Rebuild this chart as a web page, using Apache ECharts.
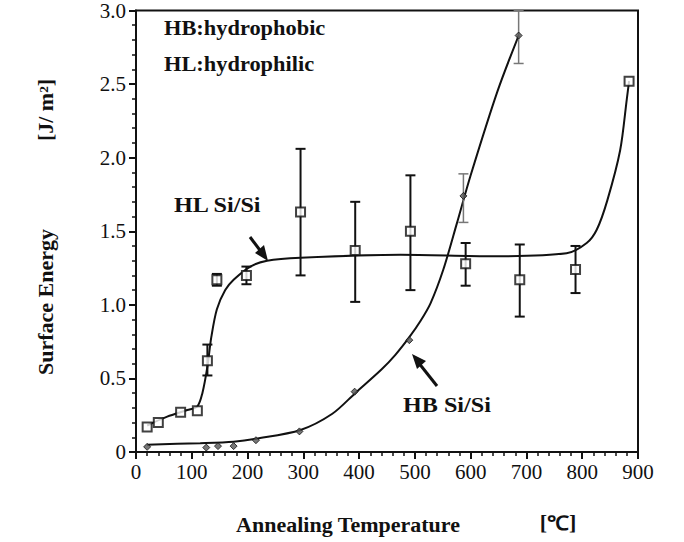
<!DOCTYPE html>
<html>
<head>
<meta charset="utf-8">
<script src="https://cdn.jsdelivr.net/npm/echarts@6/dist/echarts.min.js"></script>
<style>html,body{margin:0;padding:0;background:#fff}#c{width:684px;height:542px}</style>
</head>
<body>
<div id="c"></div>
<script>
// ---- data ----
const xTickLabels = ['0','100','200','300','400','500','600','700','800','900'];
const yTickLabels = ['0','0.5','1.0','1.5','2.0','2.5','3.0'];

// HL Si/Si measured points (squares)
const hlTemp   = [20, 40, 80, 110, 128, 145, 198, 295, 393, 492, 591, 688, 788, 884];
const hlEnergy = [0.17, 0.20, 0.27, 0.28, 0.62, 1.17, 1.20, 1.63, 1.37, 1.50, 1.28, 1.17, 1.24, 2.52];
// HL error bars
const hlErrTemp = [128, 145, 198, 295, 393, 492, 591, 688, 788];
const hlErrLow  = [0.52, 1.13, 1.14, 1.20, 1.02, 1.10, 1.13, 0.92, 1.08];
const hlErrHigh = [0.73, 1.21, 1.26, 2.06, 1.70, 1.88, 1.42, 1.41, 1.40];
// HL fitted curve
const hlFitTemp   = [20, 56, 92, 110, 119, 128, 135, 145, 160, 175, 205, 235, 295, 474, 640, 772, 808, 826, 845, 868, 880, 884];
const hlFitEnergy = [0.18, 0.24, 0.285, 0.31, 0.40, 0.58, 0.78, 0.97, 1.10, 1.17, 1.26, 1.30, 1.32, 1.34, 1.33, 1.35, 1.42, 1.51, 1.71, 2.05, 2.40, 2.52];

// HB Si/Si measured points
const hbTemp   = [20, 126, 147, 175, 215, 293, 392, 490, 587, 686];
const hbEnergy = [0.035, 0.03, 0.04, 0.04, 0.08, 0.14, 0.41, 0.76, 1.74, 2.83];
// HB error bars
const hbErrTemp = [587, 686];
const hbErrLow  = [1.56, 2.64];
const hbErrHigh = [1.89, 3.0];
// HB fitted curve
const hbFitTemp   = [20, 115, 175, 215, 295, 352, 393, 440, 465, 490, 510, 528, 551, 575, 600, 648, 686];
const hbFitEnergy = [0.05, 0.06, 0.07, 0.09, 0.15, 0.26, 0.40, 0.56, 0.66, 0.78, 0.89, 1.01, 1.24, 1.55, 1.88, 2.45, 2.83];

const zip = (a, b) => a.map((v, i) => [v, b[i]]);
const zip3 = (a, b, c) => a.map((v, i) => [v, b[i], c[i]]);

const FONT = '"Liberation Serif", "Times New Roman", serif';

function errRender(color, lw) {
  return function (params, api) {
    const x = api.value(0);
    const lo = api.coord([x, api.value(1)]);
    const hi = api.coord([x, api.value(2)]);
    const cap = 5;
    const style = { stroke: color, lineWidth: lw, fill: null };
    return {
      type: 'group',
      children: [
        { type: 'line', shape: { x1: lo[0], y1: lo[1], x2: hi[0], y2: hi[1] }, style },
        { type: 'line', shape: { x1: lo[0] - cap, y1: lo[1], x2: lo[0] + cap, y2: lo[1] }, style },
        { type: 'line', shape: { x1: hi[0] - cap, y1: hi[1], x2: hi[0] + cap, y2: hi[1] }, style }
      ]
    };
  };
}

const chart = echarts.init(document.getElementById('c'), null, { renderer: 'svg' });
chart.setOption({
  backgroundColor: '#fff',
  animation: false,
  grid: { left: 136, right: 46, top: 10, bottom: 90, show: true, borderColor: '#111', borderWidth: 2, backgroundColor: 'transparent' },
  xAxis: {
    type: 'value', min: 0, max: 900, interval: 100,
    axisLine: { lineStyle: { color: '#111', width: 2 } },
    axisTick: { inside: false, length: 7, lineStyle: { color: '#111', width: 2 } },
    minorTick: { show: true, splitNumber: 5, length: 4, lineStyle: { color: '#111', width: 1.5 } },
    splitLine: { show: false },
    axisLabel: { margin: 9, color: '#111', fontFamily: FONT, fontSize: 21,
      formatter: (v) => xTickLabels[Math.round(v / 100)] }
  },
  yAxis: {
    type: 'value', min: 0, max: 3, interval: 0.5,
    axisLine: { lineStyle: { color: '#111', width: 2 } },
    axisTick: { inside: false, length: 7, lineStyle: { color: '#111', width: 2 } },
    minorTick: { show: true, splitNumber: 5, length: 4, lineStyle: { color: '#111', width: 1.5 } },
    splitLine: { show: false },
    axisLabel: { margin: 10, color: '#111', fontFamily: FONT, fontSize: 21,
      formatter: (v) => yTickLabels[Math.round(v / 0.5)] }
  },
  series: [
    { name: 'HL fit', type: 'line', data: zip(hlFitTemp, hlFitEnergy), smooth: 0.3, symbol: 'none',
      lineStyle: { color: '#111', width: 2 }, z: 2 },
    { name: 'HB fit', type: 'line', data: zip(hbFitTemp, hbFitEnergy), smooth: 0.3, symbol: 'none',
      lineStyle: { color: '#111', width: 2 }, z: 2 },
    { name: 'HL err', type: 'custom', data: zip3(hlErrTemp, hlErrLow, hlErrHigh),
      renderItem: errRender('#111', 2), z: 3 },
    { name: 'HB err', type: 'custom', data: zip3(hbErrTemp, hbErrLow, hbErrHigh),
      renderItem: errRender('#777', 1.5), z: 3 },
    { name: 'HL Si/Si', type: 'scatter', data: zip(hlTemp, hlEnergy), symbol: 'rect', symbolSize: 9,
      itemStyle: { color: '#fff', borderColor: '#111', borderWidth: 2 }, z: 4 },
    { name: 'HB Si/Si', type: 'scatter', data: zip(hbTemp, hbEnergy), symbol: 'diamond', symbolSize: 7,
      itemStyle: { color: '#555', borderColor: '#111', borderWidth: 1 }, z: 4 }
  ],
  graphic: [
    { type: 'text', x: 164, y: 28, scaleX: 1.12,
      style: { text: 'HB:hydrophobic', font: 'bold 20px ' + FONT, fill: '#111', verticalAlign: 'middle' } },
    { type: 'text', x: 164, y: 64, scaleX: 1.12,
      style: { text: 'HL:hydrophilic', font: 'bold 20px ' + FONT, fill: '#111', verticalAlign: 'middle' } },
    { type: 'text', x: 174, y: 205, scaleX: 1.15,
      style: { text: 'HL Si/Si', font: 'bold 21px ' + FONT, fill: '#111', verticalAlign: 'middle' } },
    { type: 'text', x: 403, y: 405, scaleX: 1.15,
      style: { text: 'HB Si/Si', font: 'bold 21px ' + FONT, fill: '#111', verticalAlign: 'middle' } },
    { type: 'text', x: 46, y: 302, rotation: Math.PI / 2, scaleX: 1.1,
      style: { text: 'Surface Energy', font: 'bold 20px ' + FONT, fill: '#111', align: 'center', verticalAlign: 'middle' } },
    { type: 'text', x: 46, y: 110, rotation: Math.PI / 2, scaleX: 1.1,
      style: { text: '[J/ m²]', font: 'bold 20px ' + FONT, fill: '#111', align: 'center', verticalAlign: 'middle' } },
    { type: 'text', x: 348, y: 525, scaleX: 1.1,
      style: { text: 'Annealing Temperature', font: 'bold 20px ' + FONT, fill: '#111', align: 'center', verticalAlign: 'middle' } },
    { type: 'text', x: 558, y: 523, scaleX: 1.1,
      style: { text: '[℃]', font: 'bold 20px ' + FONT, fill: '#111', align: 'center', verticalAlign: 'middle' } },
    // arrows
    { type: 'line', shape: { x1: 250, y1: 237, x2: 262, y2: 253 }, style: { stroke: '#111', lineWidth: 3 } },
    { type: 'polygon', shape: { points: [[268, 261], [255, 253], [264, 245]] }, style: { fill: '#111' } },
    { type: 'line', shape: { x1: 437, y1: 386, x2: 418, y2: 362 }, style: { stroke: '#111', lineWidth: 3 } },
    { type: 'polygon', shape: { points: [[412, 354], [426, 361], [417, 369]] }, style: { fill: '#111' } }
  ]
});
</script>
</body>
</html>
